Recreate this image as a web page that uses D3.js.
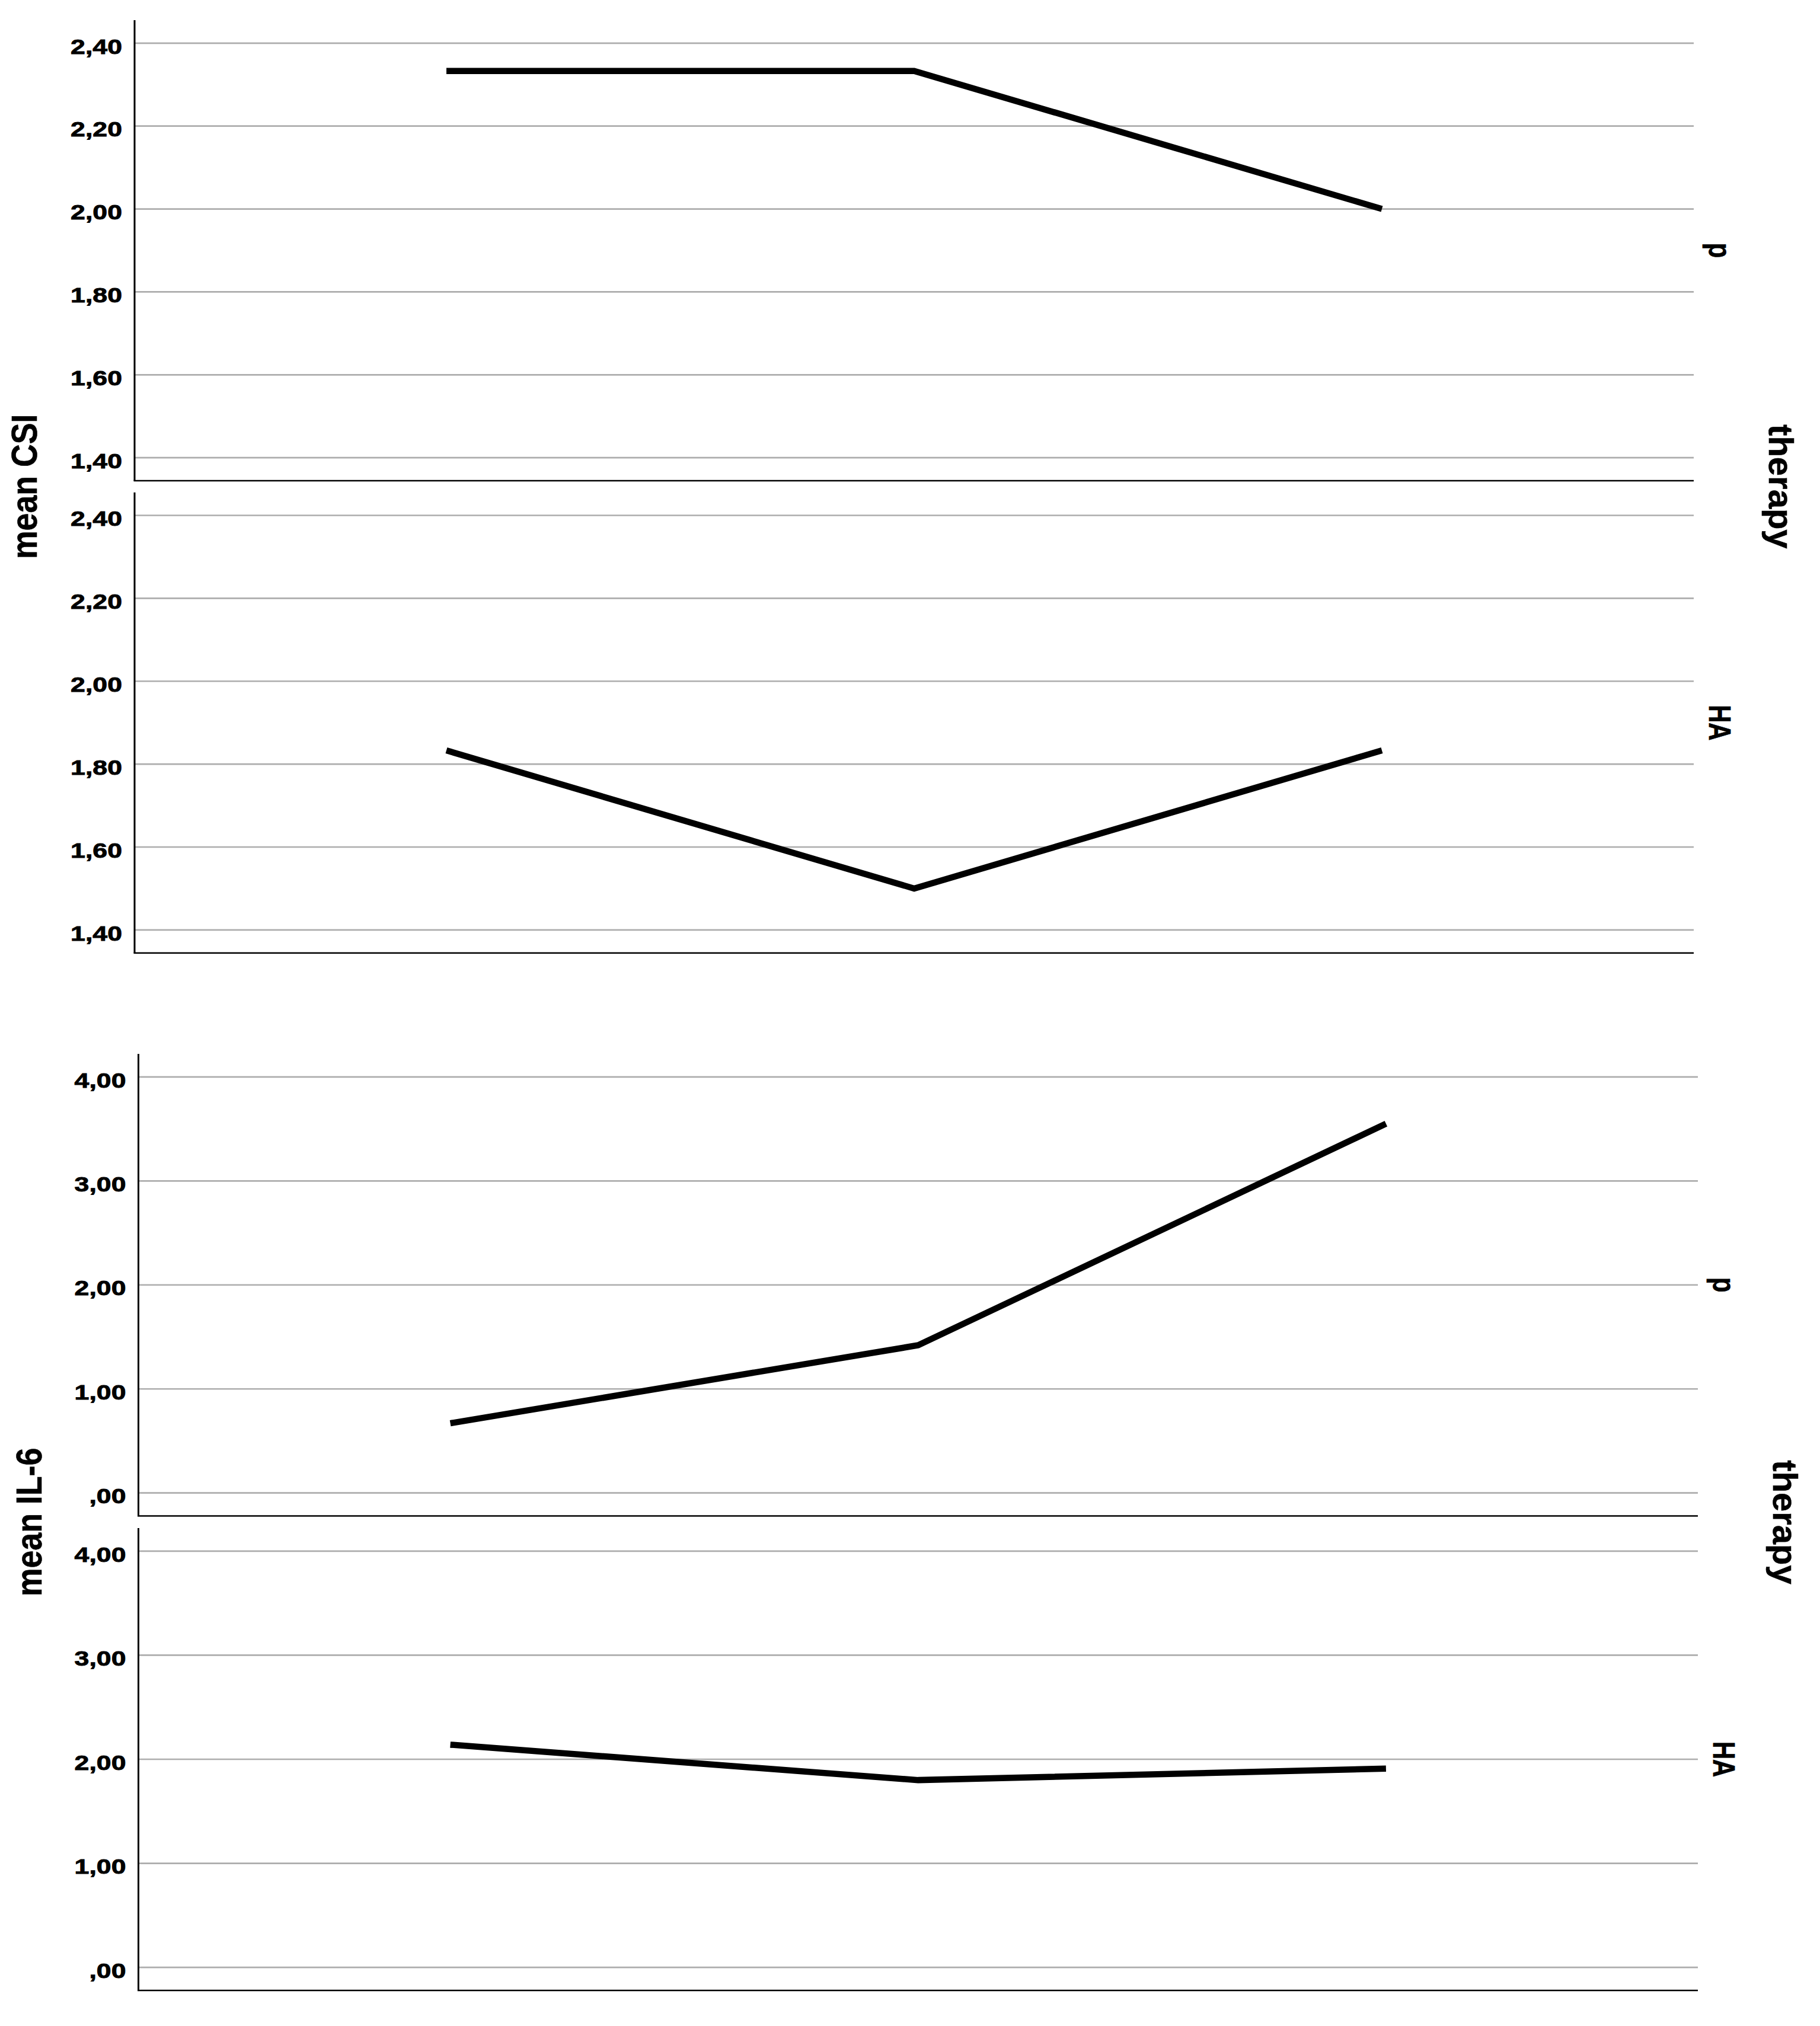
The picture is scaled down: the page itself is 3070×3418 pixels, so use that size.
<!DOCTYPE html>
<html>
<head>
<meta charset="utf-8">
<script src="https://cdn.jsdelivr.net/npm/d3@7"></script>
<style>
  html, body { margin: 0; padding: 0; background: #ffffff; }
  svg { display: block; }
  text { font-family: "Liberation Sans", Arial, sans-serif; font-weight: bold; fill: #000; }
</style>
</head>
<body>
<svg id="chart" width="3070" height="3418"></svg>
<script>
// ---- data ----
const timepoints = ["T1", "T2", "T3"];
const therapyGroups = ["p", "HA"];
const csiP  = [2.333, 2.333, 2.000];
const csiHA = [1.833, 1.500, 1.833];
const il6P  = [0.67, 1.42, 3.55];
const il6HA = [2.14, 1.80, 1.91];
const csiTicks = [1.40, 1.60, 1.80, 2.00, 2.20, 2.40];
const il6Ticks = [0, 1, 2, 3, 4];
const csiTitle = "mean CSI";
const il6Title = "mean IL-6";
const facetTitle = "therapy";

// ---- layout ----
const svg = d3.select("#chart");
svg.append("rect").attr("width", 3070).attr("height", 3418).attr("fill", "#fff");

const fmt = v => {
  let s = v.toFixed(2).replace(".", ",");
  if (s.startsWith("0")) s = s.slice(1);
  return s;
};

const blocks = [
  {
    title: csiTitle, x0: 227, x1: 2857, ticks: csiTicks, domain: [1.40, 2.40],
    panels: [{top: 34, bottom: 811, data: csiP, label: therapyGroups[0]},
             {top: 830.7, bottom: 1607.7, data: csiHA, label: therapyGroups[1]}],
    titleX: 62, facetX: 2984
  },
  {
    title: il6Title, x0: 233.5, x1: 2864, ticks: il6Ticks, domain: [0, 4],
    panels: [{top: 1778, bottom: 2557.5, data: il6P, label: therapyGroups[0]},
             {top: 2578, bottom: 3358, data: il6HA, label: therapyGroups[1]}],
    titleX: 69.5, facetX: 2991
  }
];

const inset = 38.8;

blocks.forEach(b => {
  const x = d3.scalePoint().domain(timepoints).range([b.x0, b.x1]).padding(2/3);

  b.panels.forEach(p => {
    const y = d3.scaleLinear().domain(b.domain).range([p.bottom - inset, p.top + inset]);
    const g = svg.append("g");

    // gridlines
    g.selectAll("line.grid").data(b.ticks).enter().append("line")
      .attr("x1", b.x0).attr("x2", b.x1)
      .attr("y1", d => y(d)).attr("y2", d => y(d))
      .attr("stroke", "#adadad").attr("stroke-width", 2.7);

    // tick labels
    g.selectAll("text.tick").data(b.ticks).enter().append("text")
      .attr("text-anchor", "end")
      .attr("font-size", 36)
      .attr("stroke", "#000").attr("stroke-width", 0.9)
      .attr("transform", d => `translate(${b.x0 - 21},${y(d) + 17.7}) scale(1.24,1)`)
      .text(fmt);

    // axes
    g.append("line").attr("x1", b.x0).attr("x2", b.x0)
      .attr("y1", p.top).attr("y2", p.bottom)
      .attr("stroke", "#000").attr("stroke-width", 3);
    g.append("line").attr("x1", b.x0 - 1.5).attr("x2", b.x1)
      .attr("y1", p.bottom).attr("y2", p.bottom)
      .attr("stroke", "#000").attr("stroke-width", 2.5);

    // data line
    const line = d3.line().x((d, i) => x(timepoints[i])).y(d => y(d));
    g.append("path").datum(p.data)
      .attr("d", line)
      .attr("fill", "none").attr("stroke", "#000")
      .attr("stroke-width", 10.5)
      .attr("stroke-linejoin", "miter").attr("stroke-linecap", "butt");

    // facet label
    const cy = (p.top + p.bottom) / 2;
    g.append("text")
      .attr("text-anchor", "middle")
      .attr("font-size", 52)
      .attr("stroke", "#000").attr("stroke-width", 0.8)
      .attr("transform", `translate(${b.x1 + 25.5},${cy}) rotate(90) scale(0.8,1)`)
      .text(p.label);
  });

  const top = b.panels[0].top, bottom = b.panels[1].bottom;
  const mid = (top + bottom) / 2;

  svg.append("text")
    .attr("text-anchor", "middle")
    .attr("font-size", 61)
    .attr("stroke", "#000").attr("stroke-width", 0.6)
    .attr("transform", `translate(${b.titleX},${mid}) rotate(-90) scale(0.88,1)`)
    .text(b.title);

  svg.append("text")
    .attr("text-anchor", "middle")
    .attr("font-size", 58)
    .attr("stroke", "#000").attr("stroke-width", 0.6)
    .attr("transform", `translate(${b.facetX},${mid}) rotate(90)`)
    .text(facetTitle);
});
</script>
</body>
</html>
